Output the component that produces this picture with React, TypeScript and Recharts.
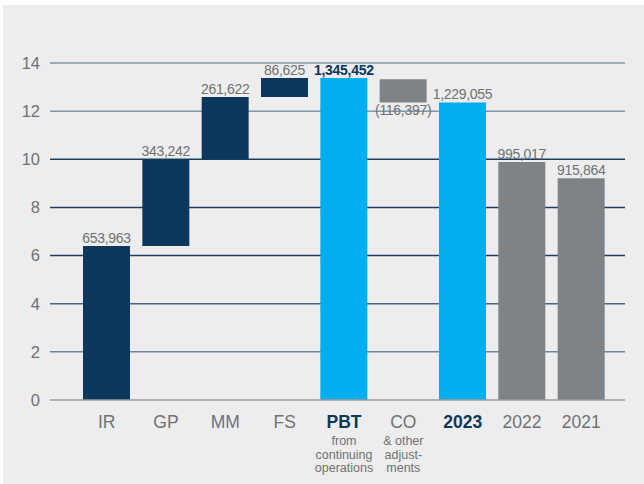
import React from "react";
import { BarChart, Bar, XAxis, YAxis, CartesianGrid, Cell, LabelList } from "recharts";

// waterfall: each bar is [low, high] in chart units
const categories = ["IR", "GP", "MM", "FS", "PBT", "CO", "2023", "2022", "2021"];
const subLabels: string[][] = [[], [], [], [], ["from", "continuing", "operations"], ["& other", "adjust-", "ments"], [], [], []];
const barLow = [0, 6.4, 10.0, 12.59, 0, 12.36, 0, 0, 0];
const barHigh = [6.4, 10.0, 12.59, 13.38, 13.38, 13.33, 12.36, 9.89, 9.21];
const valueLabels = ["653,963", "343,242", "261,622", "86,625", "1,345,452", "(116,397)", "1,229,055", "995,017", "915,864"];
const yTicks = [0, 2, 4, 6, 8, 10, 12, 14];

const NAVY = "#0b385c";
const BLUE = "#00adee";
const GREY = "#7e8387";
const barColors = [NAVY, NAVY, NAVY, NAVY, BLUE, GREY, BLUE, GREY, GREY];
const boldTicks = ["PBT", "2023"];
const gridColors: Record<number, string> = { 14: "#7f98ab", 12: "#7f98ab", 10: "#1c3f60", 8: "#1c3f60", 6: "#1c3f60", 4: "#456684", 2: "#6b87a0" };

const FONT = "'Liberation Sans', Arial, sans-serif";

const data = categories.map((name, i) => ({ name, range: [barLow[i], barHigh[i]] }));

function XTick({ x, y, payload }: any) {
  const i = payload.index;
  const bold = boldTicks.includes(payload.value);
  return (
    <g fontFamily={FONT}>
      <text x={x} y={y + 20} textAnchor="middle" fontSize={17.5} fill={bold ? NAVY : "#6f7275"} fontWeight={bold ? 700 : 400}>
        {payload.value}
      </text>
      {subLabels[i].map((s, k) => (
        <text key={k} x={x} y={y + 37 + k * 13.5} textAnchor="middle" fontSize={12.5} fill="#6f7275">
          {s}
        </text>
      ))}
    </g>
  );
}

function ValueLabel({ x, y, width, height, index }: any) {
  const cx = x + width / 2;
  const below = valueLabels[index].startsWith("(");
  const bold = categories[index] === "PBT";
  return (
    <text
      x={cx}
      y={below ? y + height + 13 : y - 3}
      textAnchor="middle"
      fontFamily={FONT}
      fontSize={14}
      letterSpacing={-0.3}
      fontWeight={bold ? 700 : 400}
      fill={bold ? NAVY : "#6f7275"}
    >
      {valueLabels[index]}
    </text>
  );
}

function GridLine(props: any) {
  const { x1, x2, y1, index } = props;
  const color = gridColors[yTicks[index] ?? -1];
  if (!color) return <g key={"g" + index} />;
  return <line key={"g" + index} x1={x1} x2={x2} y1={y1} y2={y1} stroke={color} strokeWidth={1.5} />;
}

export default function App() {
  return (
    <div style={{ position: "fixed", left: 0, top: 0, width: 644, height: 484, background: "#ffffff" }}>
      <div style={{ position: "absolute", left: 3, top: 5, right: 0, bottom: 0, background: "#ededed" }} />
      <div style={{ position: "absolute", left: 0, top: 0 }}>
        <BarChart width={644} height={484} data={data} margin={{ top: 63, right: 19, bottom: 14, left: 0 }} barSize={47}>
          <CartesianGrid vertical={false} horizontal={(p: any) => <GridLine {...p} />} />
          <YAxis
            domain={[0, 14]}
            ticks={yTicks}
            width={50}
            axisLine={false}
            tickLine={false}
            tickMargin={4}
            tick={{ fill: "#6f7275", fontSize: 16.5, fontFamily: FONT }}
          />
          <XAxis
            dataKey="name"
            height={70}
            padding={{ left: 27, right: 14 }}
            axisLine={{ stroke: "#9a9a9a", strokeWidth: 1.5 }}
            tickLine={false}
            interval={0}
            tick={<XTick />}
          />
          <Bar dataKey="range" isAnimationActive={false}>
            {data.map((d, i) => (
              <Cell key={d.name} fill={barColors[i]} />
            ))}
            <LabelList dataKey="range" content={<ValueLabel />} />
          </Bar>
        </BarChart>
      </div>
    </div>
  );
}
